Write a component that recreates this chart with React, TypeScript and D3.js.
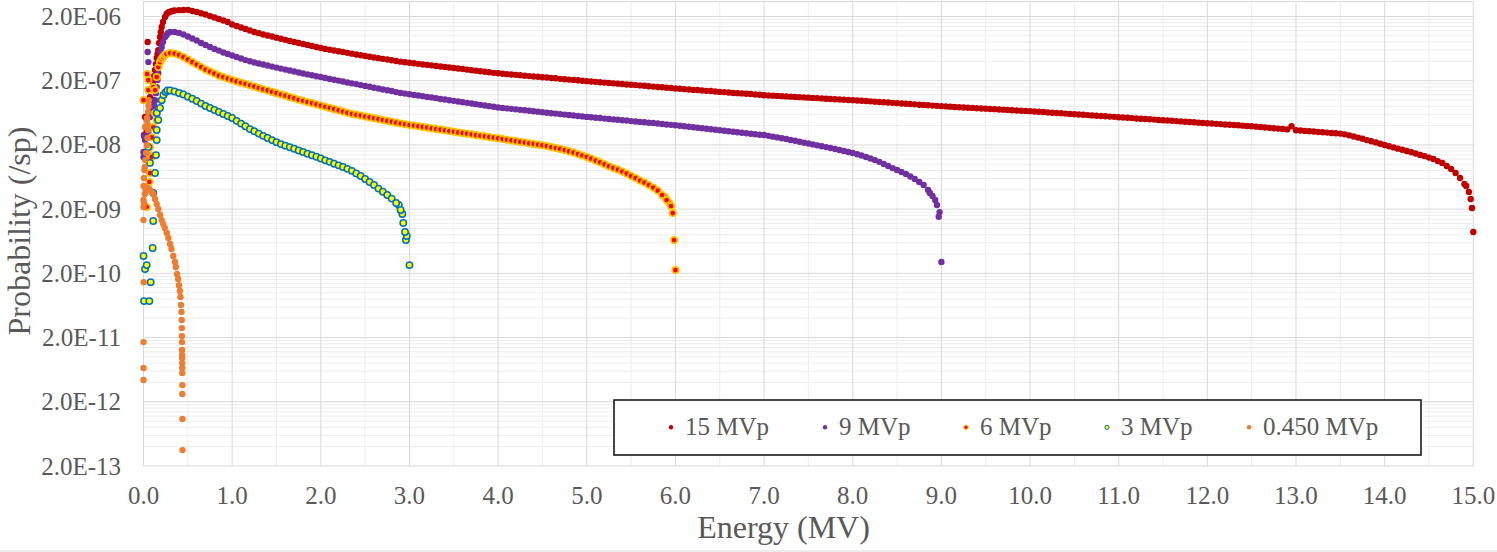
import React from 'react';
import * as d3 from 'd3';

type Pt = [number, number];

// series labels, in drawing order (later series sit on top)
const seriesNames = ['15 MVp', '9 MVp', '6 MVp', '3 MVp', '0.450 MVp'];

// axis ticks
const xTickValues = [0, 1, 2, 3, 4, 5, 6, 7, 8, 9, 10, 11, 12, 13, 14, 15];
const xTickLabels = ['0.0', '1.0', '2.0', '3.0', '4.0', '5.0', '6.0', '7.0', '8.0', '9.0', '10.0', '11.0', '12.0', '13.0', '14.0', '15.0'];
const yTickValues = [2e-13, 2e-12, 2e-11, 2e-10, 2e-9, 2e-8, 2e-7, 2e-6];
const yTickLabels = ['2.0E-13', '2.0E-12', '2.0E-11', '2.0E-10', '2.0E-09', '2.0E-08', '2.0E-07', '2.0E-06'];

// main spectra are binned every 0.05 MV starting at 0.35 MV
const gridStart = 0.35;
const gridStep = 0.05;

const prob15 = [
  2.48e-6, 2.51e-6, 2.52e-6, 2.54e-6, 2.43e-6, 2.35e-6, 2.25e-6, 2.15e-6, 2.03e-6, 1.93e-6, 1.83e-6, 1.73e-6, 1.64e-6,
  1.50e-6, 1.42e-6, 1.35e-6, 1.28e-6, 1.21e-6, 1.15e-6, 1.10e-6, 1.05e-6, 1.01e-6, 9.74e-7, 9.37e-7, 9.01e-7, 8.66e-7, 8.32e-7, 8.00e-7, 7.72e-7, 7.45e-7, 7.18e-7, 6.93e-7, 6.69e-7,
  6.45e-7, 6.26e-7, 6.09e-7, 5.91e-7, 5.75e-7, 5.59e-7, 5.43e-7, 5.28e-7, 5.13e-7, 4.98e-7, 4.84e-7, 4.72e-7, 4.60e-7, 4.49e-7, 4.38e-7, 4.27e-7, 4.16e-7, 4.06e-7, 3.96e-7, 3.87e-7,
  3.81e-7, 3.74e-7, 3.66e-7, 3.59e-7, 3.53e-7, 3.47e-7, 3.39e-7, 3.33e-7, 3.27e-7, 3.21e-7, 3.15e-7, 3.10e-7, 3.04e-7, 2.98e-7, 2.92e-7, 2.87e-7, 2.81e-7, 2.76e-7, 2.71e-7, 2.65e-7,
  2.61e-7, 2.57e-7, 2.53e-7, 2.50e-7, 2.47e-7, 2.43e-7, 2.40e-7, 2.36e-7, 2.33e-7, 2.30e-7, 2.26e-7, 2.24e-7, 2.21e-7, 2.18e-7, 2.14e-7, 2.11e-7, 2.08e-7, 2.06e-7, 2.03e-7, 2.00e-7,
  1.97e-7, 1.94e-7, 1.92e-7, 1.89e-7, 1.87e-7, 1.85e-7, 1.82e-7, 1.80e-7, 1.78e-7, 1.75e-7, 1.73e-7, 1.71e-7, 1.69e-7, 1.67e-7, 1.64e-7, 1.62e-7, 1.60e-7, 1.58e-7, 1.55e-7, 1.54e-7,
  1.51e-7, 1.50e-7, 1.48e-7, 1.46e-7, 1.44e-7, 1.43e-7, 1.41e-7, 1.39e-7, 1.38e-7, 1.36e-7, 1.34e-7, 1.33e-7, 1.31e-7, 1.29e-7, 1.28e-7, 1.27e-7, 1.25e-7, 1.24e-7, 1.22e-7, 1.21e-7,
  1.19e-7, 1.18e-7, 1.17e-7, 1.16e-7, 1.15e-7, 1.14e-7, 1.13e-7, 1.12e-7, 1.11e-7, 1.10e-7, 1.09e-7, 1.08e-7, 1.07e-7, 1.06e-7, 1.05e-7, 1.04e-7, 1.03e-7, 1.02e-7, 1.01e-7, 1.00e-7,
  9.96e-8, 9.86e-8, 9.75e-8, 9.65e-8, 9.54e-8, 9.44e-8, 9.33e-8, 9.23e-8, 9.14e-8, 9.04e-8, 8.94e-8, 8.84e-8, 8.75e-8, 8.66e-8, 8.57e-8, 8.47e-8, 8.38e-8, 8.29e-8, 8.20e-8, 8.12e-8,
  8.03e-8, 7.96e-8, 7.89e-8, 7.81e-8, 7.74e-8, 7.67e-8, 7.60e-8, 7.54e-8, 7.47e-8, 7.40e-8, 7.34e-8, 7.27e-8, 7.21e-8, 7.14e-8, 7.08e-8, 7.02e-8, 6.95e-8, 6.89e-8, 6.83e-8, 6.77e-8,
  6.71e-8, 6.64e-8, 6.57e-8, 6.50e-8, 6.42e-8, 6.35e-8, 6.28e-8, 6.22e-8, 6.15e-8, 6.08e-8, 6.02e-8, 5.95e-8, 5.89e-8, 5.83e-8, 5.77e-8, 5.70e-8, 5.64e-8, 5.58e-8, 5.52e-8, 5.47e-8,
  5.41e-8, 5.35e-8, 5.29e-8, 5.23e-8, 5.17e-8, 5.12e-8, 5.07e-8, 5.01e-8, 4.96e-8, 4.90e-8, 4.85e-8, 4.80e-8, 4.75e-8, 4.70e-8, 4.65e-8, 4.60e-8, 4.55e-8, 4.50e-8, 4.45e-8, 4.40e-8,
  4.36e-8, 4.31e-8, 4.26e-8, 4.22e-8, 4.17e-8, 4.12e-8, 4.08e-8, 4.04e-8, 3.99e-8, 3.95e-8, 3.91e-8, 3.85e-8, 3.80e-8, 3.74e-8, 3.69e-8, 3.64e-8, 3.59e-8, 3.54e-8, 3.49e-8, 3.90e-8,
  3.39e-8, 3.35e-8, 3.31e-8, 3.27e-8, 3.23e-8, 3.18e-8, 3.15e-8, 3.11e-8, 3.07e-8, 3.04e-8, 3.00e-8, 2.92e-8, 2.82e-8, 2.71e-8, 2.60e-8, 2.49e-8, 2.38e-8, 2.28e-8, 2.19e-8, 2.09e-8,
  1.99e-8, 1.91e-8, 1.83e-8, 1.75e-8, 1.68e-8, 1.61e-8, 1.54e-8, 1.47e-8, 1.40e-8, 1.34e-8, 1.27e-8, 1.21e-8, 1.12e-8, 1.05e-8, 9.38e-9, 8.42e-9, 7.30e-9, 6.10e-9, 4.92e-9, 3.69e-9,
  8.80e-10,
];

const prob9 = [
  1.15e-6, 1.11e-6, 1.05e-6, 9.74e-7, 9.07e-7, 8.44e-7, 7.72e-7, 7.18e-7, 6.69e-7, 6.22e-7, 5.89e-7, 5.49e-7, 5.20e-7,
  4.93e-7, 4.67e-7, 4.43e-7, 4.19e-7, 4.02e-7, 3.85e-7, 3.70e-7, 3.57e-7, 3.45e-7, 3.32e-7, 3.20e-7, 3.09e-7, 2.98e-7, 2.88e-7, 2.78e-7, 2.68e-7, 2.59e-7, 2.51e-7, 2.43e-7, 2.35e-7,
  2.28e-7, 2.20e-7, 2.13e-7, 2.07e-7, 2.01e-7, 1.94e-7, 1.88e-7, 1.82e-7, 1.77e-7, 1.71e-7, 1.66e-7, 1.61e-7, 1.55e-7, 1.51e-7, 1.46e-7, 1.42e-7, 1.38e-7, 1.33e-7, 1.29e-7, 1.26e-7,
  1.23e-7, 1.20e-7, 1.18e-7, 1.15e-7, 1.12e-7, 1.10e-7, 1.07e-7, 1.04e-7, 1.02e-7, 9.92e-8, 9.71e-8, 9.47e-8, 9.27e-8, 9.04e-8, 8.84e-8, 8.63e-8, 8.42e-8, 8.23e-8, 8.03e-8, 7.86e-8,
  7.66e-8, 7.53e-8, 7.42e-8, 7.29e-8, 7.16e-8, 7.03e-8, 6.93e-8, 6.80e-8, 6.68e-8, 6.59e-8, 6.47e-8, 6.35e-8, 6.24e-8, 6.15e-8, 6.04e-8, 5.93e-8, 5.85e-8, 5.74e-8, 5.64e-8, 5.56e-8,
  5.46e-8, 5.39e-8, 5.31e-8, 5.24e-8, 5.14e-8, 5.07e-8, 5.00e-8, 4.92e-8, 4.85e-8, 4.79e-8, 4.70e-8, 4.63e-8, 4.57e-8, 4.50e-8, 4.44e-8, 4.38e-8, 4.31e-8, 4.23e-8, 4.17e-8, 4.11e-8,
  4.05e-8, 3.98e-8, 3.91e-8, 3.84e-8, 3.77e-8, 3.70e-8, 3.64e-8, 3.57e-8, 3.51e-8, 3.45e-8, 3.39e-8, 3.33e-8, 3.27e-8, 3.21e-8, 3.15e-8, 3.10e-8, 3.04e-8, 2.99e-8, 2.93e-8, 2.88e-8,
  2.85e-8, 2.77e-8, 2.69e-8, 2.62e-8, 2.54e-8, 2.47e-8, 2.39e-8, 2.32e-8, 2.24e-8, 2.17e-8, 2.10e-8, 2.04e-8, 1.97e-8, 1.91e-8, 1.85e-8, 1.79e-8, 1.73e-8, 1.67e-8, 1.61e-8, 1.55e-8,
  1.50e-8, 1.43e-8, 1.37e-8, 1.30e-8, 1.23e-8, 1.16e-8, 1.09e-8, 1.01e-8, 9.38e-9, 8.72e-9, 8.13e-9, 7.56e-9, 7.04e-9, 6.44e-9, 5.88e-9, 5.29e-9, 4.75e-9, 3.97e-9, 3.20e-9, 2.32e-9,
  3.00e-10,
];

const prob6 = [
  5.29e-7, 5.02e-7, 4.67e-7, 4.27e-7, 3.90e-7, 3.57e-7, 3.26e-7, 2.98e-7, 2.78e-7, 2.58e-7, 2.40e-7, 2.28e-7, 2.16e-7,
  2.05e-7, 1.95e-7, 1.86e-7, 1.78e-7, 1.70e-7, 1.62e-7, 1.54e-7, 1.47e-7, 1.41e-7, 1.34e-7, 1.28e-7, 1.22e-7, 1.17e-7, 1.11e-7, 1.06e-7, 1.01e-7, 9.74e-8, 9.33e-8, 8.94e-8, 8.57e-8,
  8.20e-8, 7.86e-8, 7.53e-8, 7.21e-8, 6.91e-8, 6.62e-8, 6.33e-8, 6.09e-8, 5.89e-8, 5.72e-8, 5.54e-8, 5.37e-8, 5.21e-8, 5.05e-8, 4.89e-8, 4.73e-8, 4.60e-8, 4.45e-8, 4.31e-8, 4.20e-8,
  4.09e-8, 4.01e-8, 3.91e-8, 3.81e-8, 3.72e-8, 3.62e-8, 3.54e-8, 3.46e-8, 3.38e-8, 3.29e-8, 3.21e-8, 3.13e-8, 3.06e-8, 2.99e-8, 2.92e-8, 2.84e-8, 2.78e-8, 2.72e-8, 2.65e-8, 2.59e-8,
  2.53e-8, 2.47e-8, 2.41e-8, 2.35e-8, 2.29e-8, 2.23e-8, 2.18e-8, 2.12e-8, 2.07e-8, 2.02e-8, 1.97e-8, 1.92e-8, 1.85e-8, 1.79e-8, 1.73e-8, 1.66e-8, 1.59e-8, 1.52e-8, 1.44e-8, 1.37e-8,
  1.30e-8, 1.22e-8, 1.14e-8, 1.07e-8, 9.97e-9, 9.31e-9, 8.73e-9, 8.26e-9, 7.68e-9, 7.16e-9, 6.55e-9, 6.10e-9, 5.57e-9, 5.19e-9, 4.75e-9, 4.33e-9, 3.89e-9, 3.32e-9, 2.77e-9, 2.24e-9,
  2.25e-10,
];

const prob3 = [
  1.36e-7, 1.29e-7, 1.22e-7, 1.13e-7, 1.05e-7, 9.65e-8, 8.80e-8, 8.07e-8, 7.51e-8, 6.99e-8, 6.51e-8, 6.06e-8, 5.64e-8,
  5.25e-8, 4.74e-8, 4.30e-8, 3.90e-8, 3.53e-8, 3.26e-8, 3.00e-8, 2.77e-8, 2.56e-8, 2.38e-8, 2.21e-8, 2.06e-8, 1.95e-8, 1.84e-8, 1.74e-8, 1.64e-8, 1.55e-8, 1.46e-8, 1.38e-8, 1.31e-8,
  1.23e-8, 1.15e-8, 1.09e-8, 1.02e-8, 9.62e-9, 9.05e-9, 8.48e-9, 7.90e-9, 7.17e-9, 6.55e-9, 5.89e-9, 5.29e-9, 4.75e-9, 4.18e-9, 3.73e-9, 3.32e-9, 2.92e-9, 2.49e-9, 1.94e-9, 8.80e-10,
  2.69e-10,
];

// scattered points off the regular grid: the low-energy rise and the end-point tail, [MV, probability]
const extra15: Pt[] = [
  [0.006, 2.85e-8], [0.036, 3.18e-8], [0.017, 5.44e-8], [0.047, 8.0e-7], [0.06, 6.51e-8], [0.073, 1.11e-7],
  [0.093, 1.43e-7], [0.11, 9.96e-8], [0.107, 1.9e-7], [0.12, 2.36e-7], [0.13, 2.93e-7], [0.14, 3.63e-7],
  [0.149, 4.51e-7], [0.158, 5.2e-7], [0.167, 6.0e-7], [0.176, 7.72e-7], [0.186, 9.57e-7], [0.195, 1.15e-6],
  [0.205, 1.37e-6], [0.22, 1.64e-6], [0.243, 1.96e-6], [0.26, 2.19e-6], [0.276, 2.29e-6], [0.29, 2.35e-6],
  [0.31, 2.39e-6], [0.33, 2.44e-6],
  [14.92, 4.58e-9], [14.97, 2.87e-9], [14.985, 2.08e-9],
];

const extra9: Pt[] = [
  [0.047, 5.59e-7], [0.055, 3.9e-7], [0.0, 1.55e-8], [0.0, 1.3e-8], [0.017, 2.38e-8], [0.006, 2.75e-8],
  [0.054, 3.18e-8], [0.073, 5.44e-8], [0.09, 6.51e-8], [0.11, 6.95e-8], [0.12, 8.32e-8], [0.13, 9.96e-8],
  [0.14, 1.28e-7], [0.149, 1.59e-7], [0.158, 2.05e-7], [0.167, 2.63e-7], [0.176, 3.51e-7], [0.186, 4.51e-7],
  [0.195, 5.59e-7], [0.205, 6.69e-7], [0.22, 8.0e-7], [0.243, 9.57e-7], [0.26, 1.03e-6], [0.276, 1.11e-6],
  [0.3, 1.15e-6],
  [8.87, 3.56e-9], [8.93, 2.77e-9], [8.97, 1.52e-9], [8.98, 1.8e-9],
];

const extra6: Pt[] = [
  [0.04, 2.54e-7], [0.055, 2.05e-7], [0.055, 1.43e-7], [0.0, 9.96e-8], [0.11, 1.59e-7], [0.149, 2.28e-7],
  [0.13, 1.43e-7], [0.13, 6.24e-8], [0.149, 4.85e-8], [0.11, 3.77e-8], [0.093, 2.63e-8], [0.073, 1.85e-8],
  [0.073, 1.39e-8], [0.092, 1.3e-8], [0.073, 7.3e-9], [0.066, 5.29e-9], [0.036, 2.16e-9], [0.167, 3.26e-7],
  [0.186, 3.9e-7], [0.205, 4.35e-7], [0.223, 4.67e-7], [0.24, 5.02e-7], [0.26, 5.2e-7], [0.3, 5.39e-7],
  [5.88, 3.09e-9], [5.93, 2.49e-9], [5.97, 1.74e-9], [5.985, 6.6e-10],
];

const extra3: Pt[] = [
  [0.0, 3.72e-10], [0.017, 2.33e-10], [0.036, 2.69e-10], [0.006, 7.4e-11], [0.066, 7.4e-11], [0.081, 1.46e-10],
  [0.103, 4.96e-10], [0.11, 1.31e-9], [0.11, 3.56e-9], [0.13, 7.3e-9], [0.073, 1.05e-8], [0.141, 1.39e-8],
  [0.055, 1.85e-8], [0.149, 2.38e-8], [0.149, 3.41e-8], [0.167, 4.88e-8], [0.15, 6.28e-8], [0.186, 7.51e-8],
  [0.205, 9.96e-8], [0.225, 1.2e-7], [0.25, 1.33e-7], [0.27, 1.41e-7], [0.3, 1.41e-7],
  [2.88, 2.32e-9], [2.92, 1.68e-9], [2.93, 1.22e-9], [2.96, 6.6e-10], [2.97, 7.62e-10],
];

// the 0.450 MVp spectrum is read point by point, [MV, probability]
const points045: Pt[] = [
  [0.0, 1.7e-11], [0.0, 6.7e-12], [0.0, 4.36e-12], [0.002, 1.46e-10], [0.0, 1.35e-9], [0.0, 2.16e-9],
  [0.0, 2.77e-9], [0.0, 4.58e-9], [0.005, 6.1e-9], [0.01, 8.13e-9], [0.015, 9.05e-9], [0.02, 1.16e-8],
  [0.03, 1.5e-8], [0.04, 1.99e-8], [0.045, 2.56e-8], [0.05, 3.41e-8], [0.045, 4.23e-8], [0.04, 5.25e-8],
  [0.05, 6.51e-8], [0.055, 8.07e-8], [0.06, 9.96e-8], [0.017, 3.8e-8], [0.036, 4.88e-8],
  [0.005, 2.49e-9], [0.015, 3.44e-9], [0.025, 3.97e-9], [0.036, 4.26e-9], [0.05, 4.18e-9], [0.06, 4.18e-9],
  [0.073, 3.97e-9], [0.09, 3.69e-9], [0.11, 3.44e-9], [0.13, 2.87e-9], [0.149, 2.4e-9], [0.167, 2.01e-9],
  [0.186, 1.62e-9], [0.205, 1.35e-9], [0.223, 1.17e-9], [0.24, 1.02e-9], [0.262, 8.49e-10], [0.28, 7.09e-10],
  [0.299, 5.72e-10], [0.315, 4.78e-10], [0.336, 3.72e-10], [0.355, 3.0e-10], [0.365, 2.51e-10], [0.378, 1.95e-10],
  [0.39, 1.63e-10], [0.4, 1.31e-10], [0.41, 1.06e-10], [0.417, 8.55e-11], [0.423, 6.42e-11], [0.428, 4.99e-11],
  [0.431, 3.75e-11], [0.432, 2.81e-11], [0.433, 2.11e-11], [0.434, 1.7e-11], [0.434, 1.28e-11], [0.435, 1.07e-11],
  [0.436, 9.59e-12], [0.436, 8.01e-12], [0.437, 6.7e-12], [0.437, 5.6e-12], [0.438, 3.64e-12], [0.438, 2.64e-12],
  [0.439, 1.08e-12], [0.44, 3.54e-13],
];

const gridPoints = (probs: number[]): Pt[] =>
  probs.map((p, i) => [+(gridStart + i * gridStep).toFixed(3), p] as Pt);

interface Style {
  fill: string;
  stroke: string;
  strokeWidth: number;
}

const styles: Style[] = [
  { fill: '#C00000', stroke: 'none', strokeWidth: 0 },
  { fill: '#7030A0', stroke: 'none', strokeWidth: 0 },
  { fill: '#FF0000', stroke: '#FFC000', strokeWidth: 1.7 },
  { fill: '#FFFF00', stroke: '#0070C0', strokeWidth: 1.5 },
  { fill: '#ED7D31', stroke: 'none', strokeWidth: 0 },
];

const seriesPoints: Pt[][] = [
  [...extra15, ...gridPoints(prob15)],
  [...extra9, ...gridPoints(prob9)],
  [...extra6, ...gridPoints(prob6)],
  [...extra3, ...gridPoints(prob3)],
  points045,
];

const WIDTH = 1497;
const HEIGHT = 552;
const FONT = '"Liberation Serif", "Times New Roman", serif';
const TEXT = '#595959';

const App: React.FC = () => {
  const plot = { left: 143.5, right: 1473.3, top: 1.5, bottom: 466 };

  const xScale = d3.scaleLinear().domain([0, 15]).range([plot.left, plot.right]);
  const yScale = d3.scaleLog().domain([2e-13, 2e-6]).range([plot.bottom, 16.5]);

  // Excel-style log minor gridlines: 2..9 times each major value
  const yMinor = yTickValues
    .flatMap(t => d3.range(2, 10).map(m => t * m))
    .filter(v => yScale(v) > plot.top + 0.5);
  const xMinor = xTickValues.slice(0, -1).map(v => v + 0.5);

  const legend = { x: 614, y: 400, w: 807, h: 55 };
  const legendOffsets = [57, 211, 352, 493, 635];

  return (
    <svg
      width={WIDTH}
      height={HEIGHT}
      style={{ position: 'absolute', left: 0, top: 0, background: '#fff' }}
      fontFamily={FONT}
    >
      <rect width={WIDTH} height={HEIGHT} fill="#fff" />
      <line x1={0} x2={WIDTH} y1={551} y2={551} stroke="#D9D9D9" />

      {/* minor gridlines */}
      {yMinor.map(v => (
        <line key={`ym-${v}`} x1={plot.left} x2={plot.right} y1={yScale(v)} y2={yScale(v)} stroke="#EDEDED" />
      ))}
      {xMinor.map(v => (
        <line key={`xm-${v}`} x1={xScale(v)} x2={xScale(v)} y1={plot.top} y2={plot.bottom} stroke="#EDEDED" />
      ))}

      {/* major gridlines */}
      {yTickValues.map(v => (
        <line key={`yg-${v}`} x1={plot.left} x2={plot.right} y1={yScale(v)} y2={yScale(v)} stroke="#D9D9D9" />
      ))}
      {xTickValues.map(v => (
        <line key={`xg-${v}`} x1={xScale(v)} x2={xScale(v)} y1={plot.top} y2={plot.bottom} stroke="#D9D9D9" />
      ))}
      <line x1={plot.left} x2={plot.right} y1={plot.top} y2={plot.top} stroke="#D9D9D9" />

      {/* series */}
      {seriesPoints.map((pts, si) => (
        <g key={seriesNames[si]}>
          {pts.map(([e, p], i) => (
            <circle
              key={i}
              cx={xScale(e)}
              cy={yScale(p)}
              r={3.2}
              fill={styles[si].fill}
              stroke={styles[si].stroke}
              strokeWidth={styles[si].strokeWidth}
            />
          ))}
        </g>
      ))}

      {/* x tick labels */}
      {xTickValues.map((v, i) => (
        <text key={`xt-${v}`} x={xScale(v)} y={504} textAnchor="middle" fontSize={25} fill={TEXT}>
          {xTickLabels[i]}
        </text>
      ))}

      {/* y tick labels */}
      {yTickValues.map((v, i) => (
        <text key={`yt-${v}`} x={121} y={yScale(v) + 8.5} textAnchor="end" fontSize={25} fill={TEXT}>
          {yTickLabels[i]}
        </text>
      ))}

      {/* axis titles */}
      <text x={783.5} y={538} textAnchor="middle" fontSize={32} fill={TEXT}>
        Energy (MV)
      </text>
      <text transform="translate(30, 231) rotate(-90)" textAnchor="middle" fontSize={32} fill={TEXT}>
        Probability (/sp)
      </text>

      {/* legend */}
      <rect x={legend.x} y={legend.y} width={legend.w} height={legend.h} fill="#fff" stroke="#1a1a1a" strokeWidth={1.6} />
      {seriesNames.map((name, i) => (
        <g key={`lg-${name}`} transform={`translate(${legend.x + legendOffsets[i]}, ${legend.y + 27.3})`}>
          <circle
            r={styles[i].strokeWidth ? 2.1 : 2.2}
            fill={styles[i].fill}
            stroke={styles[i].stroke}
            strokeWidth={styles[i].strokeWidth ? 1 : 0}
          />
          <text x={14} y={8} fontSize={25} fill={TEXT}>
            {name}
          </text>
        </g>
      ))}
    </svg>
  );
};

export default App;
